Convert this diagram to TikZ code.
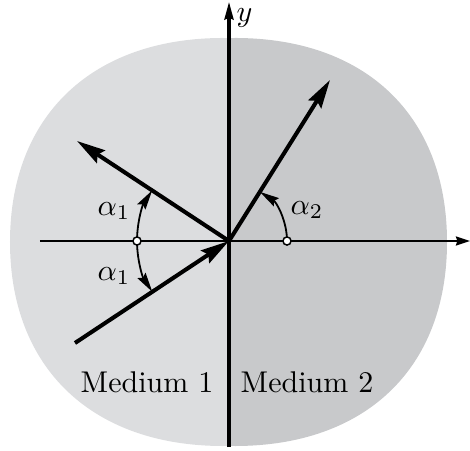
\documentclass[tikz,border=0pt]{standalone}
\usetikzlibrary{arrows.meta}
\definecolor{mediumone}{RGB}{220,221,223}
\definecolor{mediumtwo}{RGB}{200,201,203}

\begin{document}
\begin{tikzpicture}[
  x=0.3333pt, y=0.3333pt,
  ray/.style={line width=1.35pt, -{Stealth[length=9.5pt, width=5pt, inset=1.3pt]}},
  axisline/.style={line width=0.7pt},
  angarc/.style={line width=0.6pt, -{Stealth[length=6.5pt, width=3.2pt, inset=0.9pt]}},
  dot/.style={circle, draw, fill=white, line width=0.5pt, inner sep=0pt, minimum size=2.7pt}
]
  \useasboundingbox (-229,-209) rectangle (241,241);
  \fill[mediumone] (0,197) .. controls (0,203) .. (-6,203)
    .. controls (-136,203) and (-219,126) .. (-219,-1)
    .. controls (-219,-128) and (-136,-205) .. (-6,-205)
    .. controls (0,-205) .. (0,-199) -- cycle;
  \fill[mediumtwo] (0,197) .. controls (0,203) .. (6,203)
    .. controls (136,203) and (218,126) .. (218,-1)
    .. controls (218,-128) and (136,-205) .. (6,-205)
    .. controls (0,-205) .. (0,-199) -- cycle;

  \coordinate (O) at (0,0);
  \coordinate (xl) at (-189,0);
  \coordinate (xr) at (241,0);
  \coordinate (yb) at (0,-206);
  \coordinate (yt) at (0,240);
  \coordinate (inc) at (-154,-102);
  \coordinate (refl) at (-152,100);
  \coordinate (refr) at (101,161);

  \draw[axisline, -{Stealth[length=4.7pt, width=3pt, inset=0.5pt]}] (xl) -- (xr);
  \draw[line width=1.4pt, -{Stealth[length=6pt, width=2.8pt, inset=0.5pt]}] (yb) -- (yt);
  \node[anchor=base west, inner sep=0pt] (ylab) at (7,219) {$y$};

  \draw[ray] (inc) -- (O);
  \draw[ray] (O) -- (refl);
  \draw[ray] (O) -- (refr);

  \draw[angarc] (-92,0) arc[start angle=180, end angle=146.7, radius=92];
  \draw[angarc] (-92,0) arc[start angle=180, end angle=213.5, radius=92];
  \draw[angarc] (58,0) arc[start angle=0, end angle=57.9, radius=58];
  \node[dot] (c1) at (-92,0) {};
  \node[dot] (c2) at (58,0) {};

  \node (a1u) at (-115,30) {$\alpha_1$};
  \node (a1d) at (-115,-35) {$\alpha_1$};
  \node (a2) at (78,31) {$\alpha_2$};

  \node[anchor=base] (med1) at (-82,-151) {Medium 1};
  \node[anchor=base] (med2) at (78,-151) {Medium 2};
\end{tikzpicture}
\end{document}
